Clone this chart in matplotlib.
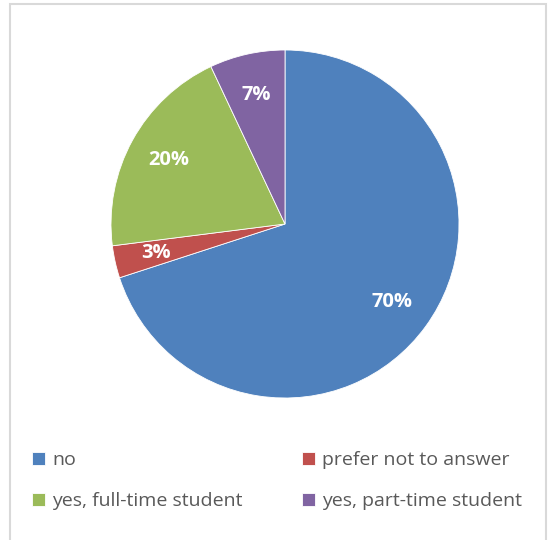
import matplotlib.pyplot as plt
from matplotlib.patches import Rectangle

labels = ['no', 'prefer not to answer', 'yes, full-time student', 'yes, part-time student']
shares = [70, 3, 20, 7]
colors = ['#4F81BD', '#C0504D', '#9BBB59', '#8064A2']

plt.rcParams['font.family'] = ['Open Sans', 'DejaVu Sans']

W, H = 548, 540
fig = plt.figure(figsize=(W / 100, H / 100), dpi=100)

# chart frame
fig.patches.append(Rectangle((10 / W, -0.05), 536 / W, 1.05 - 4 / H,
                             transform=fig.transFigure, fill=False,
                             edgecolor='#d9d9d9', linewidth=1.5))

cx, cy, r = 285, 224, 174
ax = fig.add_axes([(cx - r) / W, (H - cy - r) / H, 2 * r / W, 2 * r / H])
wedges, _, autotexts = ax.pie(shares, colors=colors, startangle=90, counterclock=False,
                              autopct='%.0f%%', pctdistance=0.76,
                              wedgeprops=dict(edgecolor='white', linewidth=0.6),
                              textprops=dict(color='white', fontsize=14.5, fontweight='bold'))
ax.set_xlim(-1, 1)
ax.set_ylim(-1, 1)
ax.set_aspect('equal')

# legend reads row by row, matplotlib fills columns first
order = [0, 2, 1, 3]
fig.legend([wedges[i] for i in order], [labels[i] for i in order], ncol=2,
           loc='upper left', bbox_to_anchor=(32 / W, 1 - 451 / H),
           borderpad=0, borderaxespad=0,
           frameon=False, fontsize=14, labelcolor='#595959',
           handlelength=0.68, handleheight=0.68, handletextpad=0.35,
           columnspacing=3.05, labelspacing=1.2)

fig.savefig('out.png', dpi=100)
